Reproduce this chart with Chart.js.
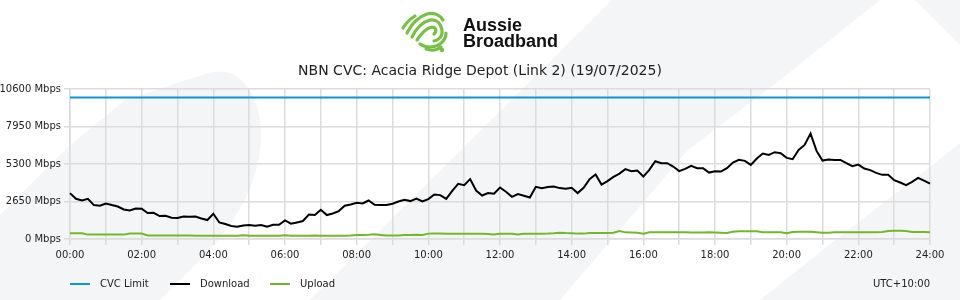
<!DOCTYPE html>
<html>
<head>
<meta charset="utf-8">
<script src="https://cdn.jsdelivr.net/npm/chart.js@4/dist/chart.umd.min.js"></script>
<style>
  html, body { margin: 0; padding: 0; background: #fff; }
  #wrap { position: relative; width: 960px; height: 300px; overflow: hidden; font-family: "DejaVu Sans", sans-serif; }
  #bg { position: absolute; left: 0; top: 0; }
  #chart { position: absolute; left: 0; top: 0; }
  #logo { position: absolute; left: 396px; top: 6px; }
  #brand { position: absolute; left: 463px; top: 17px; font-family: "Liberation Sans", Arial, sans-serif; font-weight: bold; font-size: 18px; line-height: 16px; color: #111; letter-spacing: 0px; }
  #title { position: absolute; left: 0; width: 960px; top: 61px; text-align: center; font-size: 14px; line-height: 18px; color: #222; }
  .leg { position: absolute; top: 277px; font-size: 10px; color: #222; line-height: 14px; }
  .sw { position: absolute; top: 283px; width: 20px; height: 2px; }
  #tz { position: absolute; right: 30px; top: 277px; font-size: 10px; color: #222; line-height: 14px; }
</style>
</head>
<body>
<div id="wrap">
  <svg id="bg" width="960" height="300">
    <g fill="#f4f5f7">
      <path d="M0,215 L68,147 L125,100 L205,74 C240,62 262,95 261,140 C258,190 230,230 200,260 L160,300 L0,300 Z"/>
      <path d="M310,300 L612,0 L880,0 L780,80 L688,150 L607,245 L560,300 Z"/>
      <path d="M760,300 L829,245 L936,162 L960,143 L960,300 Z"/>
      <path d="M915,0 L960,0 L960,45 Z"/>
    </g>
  </svg>
  <canvas id="chart" width="960" height="300"></canvas>
  <svg id="logo" width="62" height="50" viewBox="0 0 62 50">
    <g fill="none" stroke="#76c043" stroke-width="3.2" stroke-linecap="round" stroke-linejoin="round">
      <path d="M7,22 C10,17 14,13 19,10"/>
      <path d="M11,27 C15,19 22,11 31,8 C38,6 44,9 47,14"/>
      <path d="M16,31 C20,23 26,16 34,14 C41,13 45,18 46,24 C47,30 43,34 38,35"/>
      <path d="M21,34 C25,28 30,22 36,21 C40,21 41,25 38,28"/>
      <path d="M24,38 C30,42 38,42 44,38 C48,35 50,31 50,27"/>
      <path d="M30,43 C36,45 42,44 45,41"/>
    </g>
    <circle cx="46" cy="44" r="2.2" fill="#76c043"/>
  </svg>
  <div id="brand">Aussie<br>Broadband</div>
  <div id="title">NBN CVC: Acacia Ridge Depot (Link 2) (19/07/2025)</div>
  <div class="sw" style="left:70px;background:#0a96d8"></div>
  <div class="leg" style="left:100px">CVC Limit</div>
  <div class="sw" style="left:170px;background:#000"></div>
  <div class="leg" style="left:200px">Download</div>
  <div class="sw" style="left:270px;background:#74b72a"></div>
  <div class="leg" style="left:300px">Upload</div>
  <div id="tz">UTC+10:00</div>
</div>
<script>
// 10-minute samples, 00:00 .. 24:00
const times = [];
for (let h = 0; h <= 24; h++) {
  for (let m = 0; m < 60; m += 10) {
    if (h === 24 && m > 0) break;
    times.push(String(h).padStart(2, '0') + ':' + String(m).padStart(2, '0'));
  }
}

const yTicks = [0, 2650, 5300, 7950, 10600];
const cvcLimit = 10000;

const download = [
  3243,2841,2721,2841,2397,2348,2510,2397,2298,2087,2016,2157,2136,1833,1854,1622,1643,1502,1481,1593,1572,
  1593,1452,1340,1784,1170,1058,917,867,959,987,938,987,867,1008,1008,1311,1079,1170,1269,1734,1692,
  2066,1692,1805,1974,2348,2439,2559,2510,2721,2418,2397,2397,2489,2651,2771,2679,2862,2651,2820,3144,3102,
  2841,3405,3899,3807,4230,3426,3074,3243,3194,3638,3335,2982,3173,3053,2933,3687,3596,3667,3708,3596,
  3546,3617,3243,3617,4230,4554,3849,4089,4392,4625,4935,4794,4836,4413,4886,5499,5358,5358,5118,4794,4956,
  5168,5006,5006,4695,4794,4766,5006,5400,5591,5520,5238,5682,6035,5943,6134,6063,5732,5640,6296,6648,7450,
  6225,5541,5612,5591,5591,5358,5147,5259,4977,4865,4674,4533,4533,4160,3990,3807,4040,4322,4131,3920
];

const upload = [
  400,400,400,310,310,310,310,310,310,310,390,390,390,250,250,250,250,250,250,250,250,
  230,230,225,225,230,230,225,225,260,230,230,225,225,230,235,270,230,230,235,235,240,
  230,230,230,235,230,240,290,280,300,330,290,240,240,250,290,290,300,290,380,390,390,
  375,370,370,375,370,375,370,360,320,370,370,365,320,370,375,370,375,380,400,440,
  420,410,380,380,420,420,425,420,440,570,470,465,440,380,470,480,480,485,480,480,485,
  465,465,465,470,465,440,420,520,540,550,555,540,470,470,480,470,400,500,510,515,510,
  480,445,450,475,480,470,480,485,480,480,480,490,560,575,580,560,500,490,490,480
];

const cvc = times.map(() => cvcLimit);

const gridColor = '#dcdcdc';

new Chart(document.getElementById('chart'), {
  type: 'line',
  data: {
    labels: times,
    datasets: [
      { label: 'CVC Limit', data: cvc, borderColor: '#0a96d8', borderWidth: 2, pointRadius: 0, tension: 0 },
      { label: 'Download', data: download, borderColor: '#000000', borderWidth: 2, pointRadius: 0, tension: 0 },
      { label: 'Upload', data: upload, borderColor: '#74b72a', borderWidth: 2, pointRadius: 0, tension: 0 }
    ]
  },
  options: {
    responsive: false,
    animation: false,
    layout: { padding: { left: 0, right: 30, top: 89, bottom: 0 } },
    plugins: { legend: { display: false }, tooltip: { enabled: false }, title: { display: false } },
    scales: {
      x: {
        type: 'category',
        offset: false,
        afterFit(scale) { scale.height = 61; },
        grid: {
          color: (ctx) => (ctx.index % 6 === 0 ? gridColor : 'rgba(0,0,0,0)'),
          lineWidth: 1.5,
          tickLength: 6,
          drawTicks: true
        },
        border: { color: gridColor, width: 1.5 },
        ticks: {
          autoSkip: false,
          maxRotation: 0,
          minRotation: 0,
          padding: 4,
          color: '#222',
          font: { family: 'DejaVu Sans', size: 10 },
          callback(val, idx) { return idx % 12 === 0 ? this.getLabelForValue(val) : ''; }
        }
      },
      y: {
        min: 0,
        max: 10600,
        afterFit(scale) { scale.width = 70; },
        afterBuildTicks(scale) { scale.ticks = yTicks.map(v => ({ value: v })); },
        grid: { color: gridColor, lineWidth: 1.5, tickLength: 6 },
        border: { color: gridColor, width: 1.5 },
        ticks: {
          padding: 3,
          color: '#222',
          font: { family: 'DejaVu Sans', size: 10 },
          callback: (v) => v + ' Mbps'
        }
      }
    }
  }
});
</script>
</body>
</html>
